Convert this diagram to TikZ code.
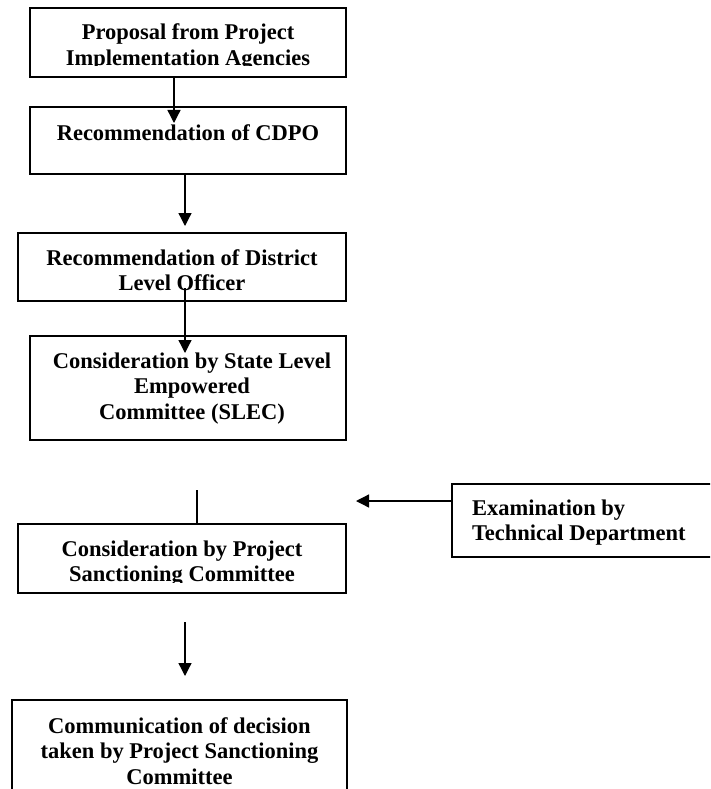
\documentclass[tikz,border=0pt]{standalone}
\usepackage{fontspec}
\setmainfont{Liberation Serif}
\usetikzlibrary{arrows.meta}
\tikzset{
  box/.style={draw, line width=1.5pt, inner sep=0pt, outer sep=0pt, fill=none},
  txt/.style={inner sep=0pt, outer sep=0pt, font=\fontsize{22.5}{25.5}\selectfont\bfseries},
  arr/.style={line width=1.3pt, -{Triangle[length=13pt,width=13pt]}},
  plain/.style={line width=1.3pt}
}
\begin{document}
\begin{tikzpicture}[x=1pt,y=-1pt]
\useasboundingbox (0,0) rectangle (710,789);
\clip (0,0) rectangle (710,789);
% boxes
\node[box, minimum width=316pt, minimum height=69pt] (b1) at (188,42.5) {};
\node[box, minimum width=316pt, minimum height=67pt] (b2) at (188,140.5) {};
\node[box, minimum width=328pt, minimum height=68pt] (b3) at (182,267) {};
\node[box, minimum width=316pt, minimum height=104pt] (b4) at (188,388) {};
\node[box, minimum width=328pt, minimum height=69pt] (b5) at (182,558.5) {};
\node[box, minimum width=290pt, minimum height=73pt] (b6) at (597,520.5) {};
\node[box, minimum width=335pt, minimum height=120pt] (b7) at (179.5,760) {};
% texts
\begin{scope}
\clip (30,8) rectangle (346,66);
\node[txt, anchor=base] (t1) at (188,40) {\parbox[t]{310pt}{\centering Proposal from Project\\Implementation Agencies}};
\end{scope}
\node[txt, anchor=base] (t2) at (188,140) {\parbox[t]{310pt}{\centering Recommendation of CDPO}};
\node[txt, anchor=base] (t3) at (182,265) {\parbox[t]{320pt}{\centering Recommendation of District\\Level Officer}};
\node[txt, anchor=base] (t4) at (192,368) {\parbox[t]{310pt}{\centering Consideration by State Level\\Empowered\\Committee (SLEC)}};
\begin{scope}
\clip (18,524) rectangle (346,582);
\node[txt, anchor=base] (t5) at (182,556) {\parbox[t]{320pt}{\centering Consideration by Project\\Sanctioning Committee}};
\end{scope}
\node[txt, anchor=base west] (t6) at (472,515) {\parbox[t]{236pt}{\raggedright Examination by\\Technical Department}};
\node[txt, anchor=base] (t7) at (179.5,733) {\parbox[t]{330pt}{\centering Communication of decision\\taken by Project Sanctioning\\Committee}};
% connectors
\coordinate (a1e) at (174,123);
\draw[arr] (b1.south -| a1e) -- (a1e);
\coordinate (a2e) at (185,226);
\draw[arr] (b2.south -| a2e) -- (a2e);
\coordinate (a3s) at (185,288);
\coordinate (a3e) at (185,353);
\draw[arr] (a3s) -- (a3e);
\coordinate (l4s) at (197,490);
\draw[plain] (l4s) -- (l4s |- b5.north);
\coordinate (a5e) at (356,501);
\draw[arr] (a5e -| b6.west) -- (a5e);
\coordinate (a6s) at (185,622);
\coordinate (a6e) at (185,676);
\draw[arr] (a6s) -- (a6e);
\end{tikzpicture}
\end{document}
